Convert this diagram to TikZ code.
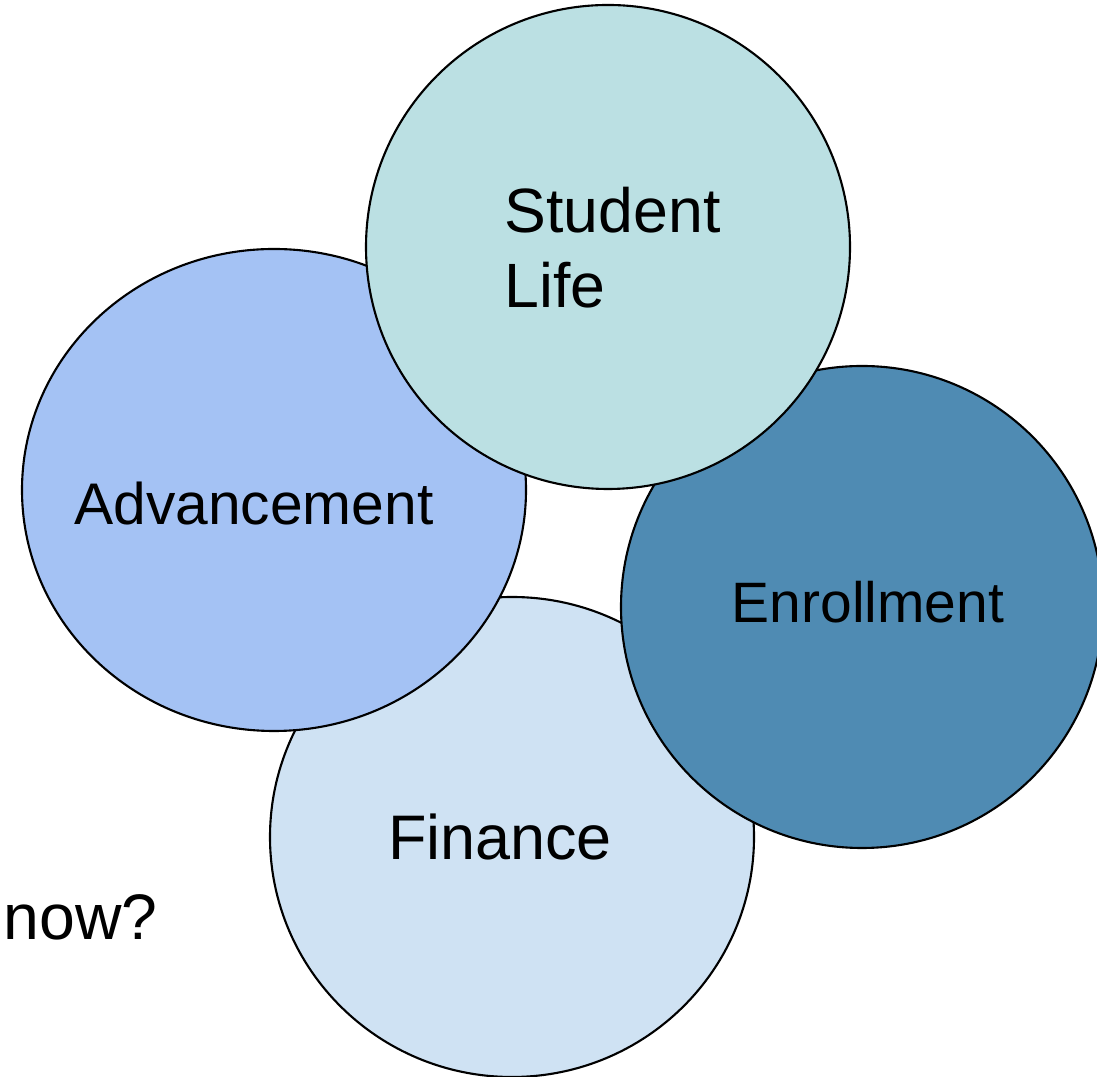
\documentclass[tikz,border=0pt]{standalone}
\usepackage{fontspec}
\setmainfont{Liberation Sans}

\definecolor{lifefill}{HTML}{BBE0E3}
\definecolor{advfill}{HTML}{A4C2F4}
\definecolor{enrolfill}{HTML}{4F8BB3}
\definecolor{finfill}{HTML}{CFE2F3}

\tikzset{
  area/.style={draw=black, line width=0.6pt},
  areatext/.style={inner sep=0pt, anchor=base, text=black}
}

\begin{document}
\begin{tikzpicture}[x=0.01cm, y=-0.01cm]
            \useasboundingbox (0,0) rectangle (1097,1077);
            \clip (0,0) rectangle (1097,1077);

            % Define centres
            \coordinate (fin) at (512,837);
            \coordinate (adv) at (274,490);
            \coordinate (enrol) at (862,607);
            \coordinate (life) at (608,247);

            % Draw the four areas, back to front
            \draw[area, fill=finfill] (fin) ellipse [x radius=242, y radius=240];
            \draw[area, fill=advfill] (adv) ellipse [x radius=252, y radius=241];
            \draw[area, fill=enrolfill] (enrol) ellipse [x radius=241, y radius=241];
            \draw[area, fill=lifefill] (life) ellipse [x radius=242, y radius=242];

            % Labels
            \node[areatext, anchor=base west, align=left, font=\fontsize{17.8pt}{21.6pt}\selectfont] (lifetext) at (504,308) {Student\\Life};
            \node[areatext, font=\fontsize{16.7pt}{20pt}\selectfont] (advtext) at (254,525) {Advancement};
            \node[areatext, font=\fontsize{16.2pt}{20pt}\selectfont] (enroltext) at (868,623) {Enrollment};
            \node[areatext, font=\fontsize{17.9pt}{21pt}\selectfont] (fintext) at (500,860) {Finance};
            \node[areatext, anchor=base west, font=\fontsize{18.3pt}{22pt}\selectfont] (nowtext) at (3,940) {now?};
        \end{tikzpicture}
\end{document}
